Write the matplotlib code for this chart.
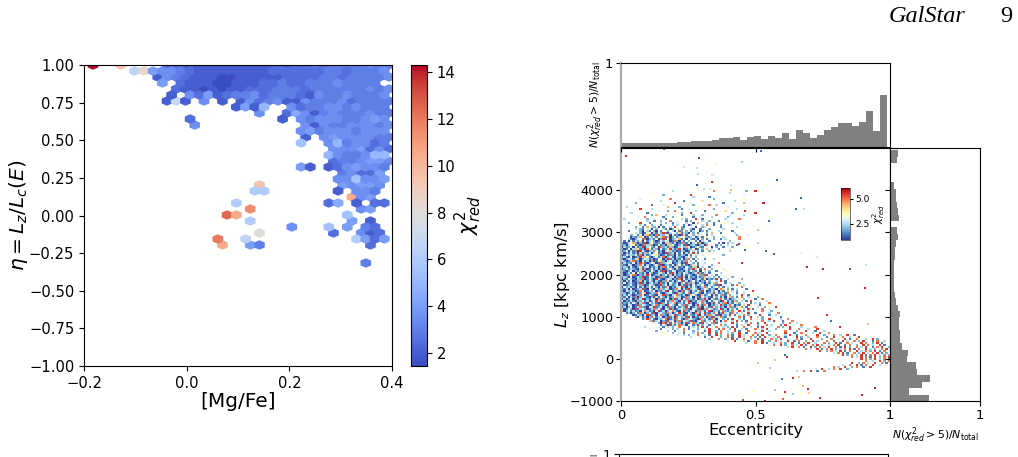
import matplotlib
matplotlib.use("Agg")
import matplotlib.pyplot as plt
import numpy as np

W, H = 1018, 457

# chi2_red per hexagon, row 0 is eta = 1, every row is half a hexagon lower.
# One character per cell, int(c, 36) / 2 gives the value, "." means empty.
hex_rows = [
    "t..j...." + "5544444444445455656666766",
    "...." + "dh" + "8776" + "544444444555555665666777",
    "......." + "4" + "7654443344444555566566667",
    "......." + "8" + "." + "5444334445565566676666",
    "........." + "544343445556665666666767",
    "........" + "4" + "." + "7" + "5" + "8" + "4" + "566756665476676667677",
    "........" + "4e4" + "." + "7" + "." + "4" + "." + "4" + "7567" + "44" + "7666756666",
    "..............." + "484a" + ".." + "7" + "5667767666678",
    ".................." + "7" + ".." + "59" + "74" + "6766676677",
    ".........." + "5" + "........." + "4" + "." + "7" + "677766787",
    "..........." + "7" + "..........." + "74" + "766777676",
    "......................" + "7867776777",
    "......................." + "4" + "." + "78777766687",
    "......................" + "b" + ".." + "7a677568",
    ".........................." + "7778575",
    "........................." + "a7667a" + "a5",
    ".........................." + "5667887",
    "......................" + "84" + "." + "4578776",
    "..........................." + "67558",
    ".........................." + "77b778",
    ".................." + "j" + "........" + "87887",
    "................." + "cc" + "......." + "4" + "." + "776",
    "............................" + "l78",
    "..............." + "c" + "........." + "59" + "." + "4" + "." + "55",
    "................." + "n" + "..........." + "78",
    ".............." + "pl" + ".........." + "." + "b",
    "................." + "c" + ".........." + "8" + "." + "4",
    "....................." + "7" + "..." + "b" + "." + "8" + "." + "65",
    ".................." + "g" + "......." + "5" + ".." + "745",
    "............." + "o" + ".." + "d" + "..........." + "c858",
    ".............." + "l" + ".." + "86" + "..........." + "5",
    "",
    "",
    "............................." + "6",
]

chi_ticks = [2, 4, 6, 8, 10, 12, 14]

# binned Lz-eccentricity cloud, one row per Lz band from the top down,
# digit d means chi2_red = 1 + d / 2, a blank means nothing in that cell
cloud_rows = [
    "                      3                 8             2",
    "            5                                  3",
    "                  2           9                      4",
    "                               3      1",
    "        4            8                  2            5",
    "                 3         1       6             3",
    "      2                9      4             1        7",
    "             1    4            2      8  3",
    "  3                 7    2       5            4",
    "        9    3            1  4          2         3",
    "                4   2  8        3   1        6",
    "    3      1        5     2   9     4           2",
    "             2 7   3      1    3   2     8     4     3",
    "       4  8       1   2 5      1  4    3      2",
    " 3         2  4    1      3 2   9  1   5     3     8",
    "      5    3  1  2   8  4   1 2    3  2   1   4",
    "   2    9   1    3 2  1 4   3  0 7   2  1   5   3",
    "        3 1  24  1 5  2 3  1 02 4  3 8  1  2        4",
    "  4   2  1 7 32 0 1  3 9  21  4 0  23  5   1      3",
    "      3 21 4 0 2  31 02 6 13  20 41   2     3       5",
    "   1   420 31 20 1 52 30 18 2 13  02 1 4  3     1",
    "      3 20154031 29103 4261320 2 14  2 7   1     3",
    "    2  1403712081325 04120931 42 6 4 1 3   5      2    4",
    "  4 0213750142 1 381702413 5213 02 1 6  2   3      8",
    "   31024 18023150291 02347140 2130 2 14 2  1 3     8",
    " 1 0413260 13520142 30182031524 1 03  1    4   2",
    "20134720219035212407621301821403517023 54 1 0 2 3  4       3",
    "12034512018372014120735102419023102308 4 1 2  3   1",
    "03124061290352140823172013427 013521 4 0 2  1 4 2     5",
    "2014037512085132041269312940132501 2 7 3  1    5",
    "12403180941023851203471201320143 2 1  2 3      3",
    "30214120317240351209123041503159 1 4  5",
    "01423261803124562013182041320 1 3  4        2",
    "23104012937510241380241032103 2 2   4",
    "102431670243120145029130214028 1 3  1   3",
    "42013812041302914720351203128 3 1  4",
    "031214029710243018235401230194 2 1  3     8",
    "21043012840310241902314025131026 1 4   2",
    "1320410261340213028142036120421370 3  1   5",
    "024132103920141302017420310241293 1 8  2    4",
    "31024021380214203190214301203142150 3 2  1   5",
    "2013140521304201362041930214310249213 1 4  3",
    "30124810213940123024170312041320142819 3 1 4   5",
    "132040132901423018210340219304120312743 2 1  4  2",
    "021431032801420931024302180413201431602139 1  3     2",
    "2031401270314203102841302491302413021524 3 9 1  4",
    "140231029130241208130421307412830142031472 5 1 3   2",
    "30124103280143201924031240319204132510342190 4  1 8  3",
    "0423120413026142031840213492031420138241352 1 3 4   8",
    "213040123910420317243012840319243102461320486 2 1 3   1",
    "104232018401324021390412308142031529401324031 7 3 2  4   9",
    "32014130247013284102341093214802531041239412318 4 1  3",
    "0314201284013210439120348213016420931240314281524 3 9  1 5",
    "2140318024310293142031247301824031942310524130472 1 8  3   2",
    "13024021390214308213402913048231401293042138413023 5 2 4  1  8",
    "402131072413024931041283204139021438204135209413172 3 1 9  4   3",
    "0213142038104231092413480231492013483102941328031462 4  1 3 2   8",
    "2104301924310248132094310428134029318402134921384021 3 9  4 1   5",
    "13024013821043912403182041329401382043195241304821358 1 4  3  2    9",
    "3014209134201382410439201342810431902843124913042415 3 9 1   8  4",
    "70241312048312049130248310492134028314902314821384 9 1 3  4  8   2",
    "  13024183024190342183024931042083149213840293418 2 3  9  1  4  3   8",
    "    40132049123048210349123084213904128341903249 1 3 8 2  4 9   1  3",
    "      2041302841340291308423194021384029134821 3 4 8 1  9  3 2   4   1",
    "         1392410324801392410834210932418304 2 1 9  3 1  8  4 2  9    3  8",
    "            381340219340281432910348143 9240 8  3 9 2 1  4   8  3 9   1   8",
    "              4 2089314832039148231943 281 3 4  9 2   3 8  1  9   4   2  8  3",
    "                 1420931482304 139 2 41 3  8 2 4  1 3  9   2   8 3   1 9   4  8",
    "          3     4 1 3 2  8 4 1 3 2 9 1 4 8  3 2 9 1  8  3  1 9  4   8 2  9    3     8",
    "            4    1 4  2 3  8 1 4 2  3 9   1 8  2 9  3 1   8  3 9   2     9   8   3   9",
    "               2    3  1 4 8   2 3  1 9  2 8  3  9 1   8  4  9  3      8    2   9   1   3",
    "                  5   2  4 1   3 8 2  9  1 8  3 2  9  1   8 3  9  4    9   1  8    3  9   8",
    " " * 24 + "4  3 2   8  3 1  9 2  8 1  9 3   8 1 9  2  8   3 9  1   8    9  2   8  3  9  1",
    " " * 30 + "3   4 1  9   2  8 1  9 3  8 2 1 9   3 8  1    9 2  3   8   1  9   8  3   9",
    " " * 38 + "3   8  2  9 1  8  3  9 1   8 2 9  3   8 1   9    2   8  4  9 1  8   3  9 2",
    " " * 46 + "4  9   3 1  8  9  2  8 3  9  1 8  2  9 3   8  1   9 3  8 2 9   1 8  3",
    " " * 54 + "3   8  9 1  3  8 2  9  1 8 9  3   8 2  9 1  8 3   9 8  2 9 1   8",
    " " * 64 + "4 8  9 2  8 3 9 1  8 9 2  3 8 9  1 8  2  9 8 3  9 1  8  9",
    " " * 72 + "3 9  8 1  9 2 8 3 9  8 1 9 2  8 3 9  1 8 9  2 8",
    " " * 80 + "8 3  9 1 8 9 2 3 8 9 1 8  9 3 2  8 9  1 3 8",
    " " * 86 + "9  2 8 3 9 1 8  9 3 8 2 9 1 8  4 9",
    " " * 92 + "3 8 9 1  8 2 9 3 8 9 1 2 8 9  3",
    " " * 96 + "9 2 8 3 9 1 8 9 3 8 2 9 1 8",
    " " * 100 + "8 3 9 8 1 9 2 8 9 3 1 8 9",
    " " * 104 + "9 8 2 9 3 8 1 3 9 8",
    " " * 106 + "8  3  9 2 8 9 1 3",
    " " * 100 + "9  2 8 3  9  8 1 9",
    " " * 96 + "3  8  9 1 8  9  3",
    " " * 92 + "8 3  9  2 8  1  9",
    " " * 84 + "4  9  3 8  9  2",
    " " * 76 + "3  8  9  1  8",
]

# isolated stars away from the cloud
stray_ecc = [.02, .29, .52, .16, .234, .283, .34, .286, .45, .353, .58, .338, .283, .41, .54, .33, .31, .41,
             .50, .67, .53, .46, .50, .65, .68, .55, .51, .49, .44, .46, .54, .57, .67, .73, .45, .69, .75,
             .85, .91, .907, .732, .74, .896, .603, .535, .453, .49, .572, .61, .64, .67, .695, .653, .677,
             .70, .944, .573, .598, .64, .662, .554, .51, .572, .617, .61, .814, .918, .765, .78]
stray_lz = [4810, 4760, 4930, 4980, 4550, 4525, 4360, 4380, 4670, 4620, 4240, 4195, 4120, 4120, 4120, 4030, 4030,
            4000, 3980, 3810, 3700, 3500, 3460, 3550, 3550, 3270, 3050, 3150, 2720, 2580, 2560, 2490, 2510, 2420,
            2270, 2180, 2130, 2130, 2230, 1680, 1450, -920, -850, -950, -1000, -970, -760, -735, -780, -830, -830,
            -710, -690, -640, -820, -690, -500, -470, -450, -430, -210, -95, -25, 50, 95, 760, 830, 1040, 900]
stray_chi = [5.6, 1.2, 1.3, 5.5, 2.8, 2.6, 2.8, 2.6, 2.4, 3.3, 1.3, 5.5, 1.3, 2.8, 3.4, 2.8, 2.5, 4.4, 5.6, 1.4, 5.7,
             5.6, 5.5, 1.4, 2.6, 1.3, 4.4, 3.2, 5.6, 1.4, 1.3, 1.3, 2.9, 2.8, 5.6, 5.7, 5.7, 1.3, 2.6, 5.7, 5.6,
             5.6, 5.6, 5.2, 5.7, 5.3, 3.5, 2.4, 5.6, 2.4, 3.5, 5.6, 3.5, 4.4, 4.3, 5.7, 3.5, 1.5, 5.6, 4.4, 2.4,
             4.4, 4.3, 5.6, 1.4, 5.7, 4.3, 5.6, 1.4]
scatter_cbar_ticks = [2.5, 5.0]

# fraction of chi2_red > 5 stars per eccentricity bin
ecc_frac = [.047, .043, .043, .043, .043, .043, .047, .05, .055, .059, .067, .071, .071, .082, .102, .102, .122, .086,
            .118, .133, .098, .133, .106, .169, .098, .208, .165, .110, .141, .208, .239, .282, .290, .251, .302,
            .424, .196, .616]

# same fraction per Lz bin, top bin first
lz_frac = [.093, .078, 0, 0, 0, .044, .067, .07, .081, .089, .104, .01, .078, .093, .07, .059, .059, .048, .048, .044,
           .044, .048, .052, .063, .093, .115, .104, .104, .115, .107, .137, .2, .19, .289, .304, .44, .36, .21, .43]

lz_ticks = [-1000, 0, 1000, 2000, 3000, 4000]
frac_label = r"$N(\chi^2_{red}>5)/N_{\mathrm{total}}$"


def box(x0, y0, x1, y1):
    # pixel box measured from the top left, as figure fractions
    return [x0 / W, 1 - y1 / H, (x1 - x0) / W, (y1 - y0) / H]


fig = plt.figure(figsize=(W / 100, H / 100), dpi=100)

# left panel: hexbin of eta against [Mg/Fe]
ax = fig.add_axes(box(84, 65, 392, 366))
xmin, xmax = -0.1825, 0.394
nx, ny = 32, 18
sx = (xmax - xmin) / nx
sy = 12 * 2 / 301
hx, hy, hc = [], [], []
for r, row in enumerate(hex_rows):
    for i, ch in enumerate(row):
        if ch != ".":
            hx.append(xmin + (i + 0.5 * (r % 2)) * sx)
            hy.append(1 - r * sy / 2)
            hc.append(int(ch, 36) / 2)
hb = ax.hexbin(hx, hy, C=hc, gridsize=(nx, ny), extent=(xmin, xmax, 1 - ny * sy, 1),
               cmap="coolwarm", vmin=1.45, vmax=14.3, reduce_C_function=np.mean)
ax.set_xlim(-0.2, 0.4)
ax.set_ylim(-1, 1)
ax.set_xticks([-0.2, 0.0, 0.2, 0.4])
ax.set_yticks(np.arange(-1, 1.01, 0.25))
ax.tick_params(labelsize=10.6)
ax.set_xlabel("[Mg/Fe]", fontsize=14.5, labelpad=1)
ax.set_ylabel(r"$\eta = L_z/L_c(E)$", fontsize=14.5, labelpad=-1)

cax = fig.add_axes(box(411, 65, 427, 366))
cb = fig.colorbar(hb, cax=cax)
cb.set_ticks(chi_ticks)
cb.ax.tick_params(labelsize=10.6)
cb.set_label(r"$\chi^2_{red}$", fontsize=15, labelpad=-2)

# right panel: Lz against eccentricity, coloured by chi2_red
ax2 = fig.add_axes(box(621, 148, 890, 401))
ecc_bin = 2.3 / 269
ecc, lz, chi = [], [], []
for k, row in enumerate(cloud_rows):
    for c, ch in enumerate(row):
        if ch != " ":
            ecc.append((c + 0.5) * ecc_bin)
            lz.append((358 - (190 + 2 * k)) / 42.2 * 1000)
            chi.append(1 + int(ch) / 2)
ax2.scatter(ecc, lz, c=chi, s=3.2, marker="s", linewidths=0, cmap="RdYlBu_r", vmin=0.9, vmax=6.1)
sc = ax2.scatter(stray_ecc, stray_lz, c=stray_chi, s=2.4, marker="s", linewidths=0,
                 cmap="RdYlBu_r", vmin=0.9, vmax=6.1)
ax2.set_xlim(0, 1)
ax2.set_ylim(-1000, 5000)
ax2.set_xticks([0, 0.5, 1])
ax2.set_xticklabels(["0", "0.5", "1"])
ax2.set_yticks(lz_ticks)
ax2.tick_params(labelsize=9.4, pad=2)
ax2.set_xlabel("Eccentricity", fontsize=11.7, labelpad=1)
ax2.set_ylabel(r"$L_z$ [kpc km/s]", fontsize=11.7, labelpad=-2)
ax2.spines["left"].set_color("#aaaaaa")
ax2.spines["left"].set_linewidth(1.6)

cax2 = fig.add_axes(box(841, 188, 850, 240))
cb2 = fig.colorbar(sc, cax=cax2)
cb2.set_ticks(scatter_cbar_ticks)
cb2.ax.tick_params(labelsize=6.5, length=2, pad=1.5)
cb2.outline.set_linewidth(0.4)
cb2.set_label(r"$\chi^2_{red}$", fontsize=7, labelpad=1)

# marginal fraction histograms
top = fig.add_axes(box(621, 63, 890, 147))
w = 0.026
top.bar(np.arange(len(ecc_frac)) * w, ecc_frac, width=w, align="edge", color="gray")
top.set_xlim(0, 1)
top.set_ylim(0, 1)
top.set_xticks([0, 0.5, 1])
top.set_xticklabels([])
top.set_yticks([1])
top.tick_params(labelsize=9.4, pad=2)
top.set_ylabel(frac_label, fontsize=7.8, labelpad=0)
top.spines["left"].set_color("#aaaaaa")
top.spines["left"].set_linewidth(1.6)

side = fig.add_axes(box(890, 148, 980, 401))
lz_edges = -1000 + 152.5 * np.arange(len(lz_frac))[::-1]
side.barh(lz_edges, lz_frac, height=152.5, align="edge", color="gray")
side.set_xlim(0, 1)
side.set_ylim(-1000, 5000)
side.set_xticks([0, 1])
side.set_xticklabels(["1", "1"])
side.set_yticks(lz_ticks)
side.set_yticklabels([])
side.tick_params(labelsize=9.4, pad=2)
side.set_xlabel(frac_label, fontsize=7.8, labelpad=3)

# next panel of the page, only its top edge fits
below = fig.add_axes(box(619, 454, 888, 539))
below.set_xlim(0, 1)
below.set_ylim(0, 1)
below.set_xticks([])
below.set_yticks([1])
below.tick_params(labelsize=9.4, pad=2)
below.set_ylabel(frac_label, fontsize=7.8, labelpad=0)

# running page header
fig.text(889 / W, 1 - 22 / H, "GalStar", family="Liberation Serif", style="italic", fontsize=17.5)
fig.text(1000 / W, 1 - 22 / H, "9", family="Liberation Serif", fontsize=17.5)

fig.savefig("out.png", dpi=100)
